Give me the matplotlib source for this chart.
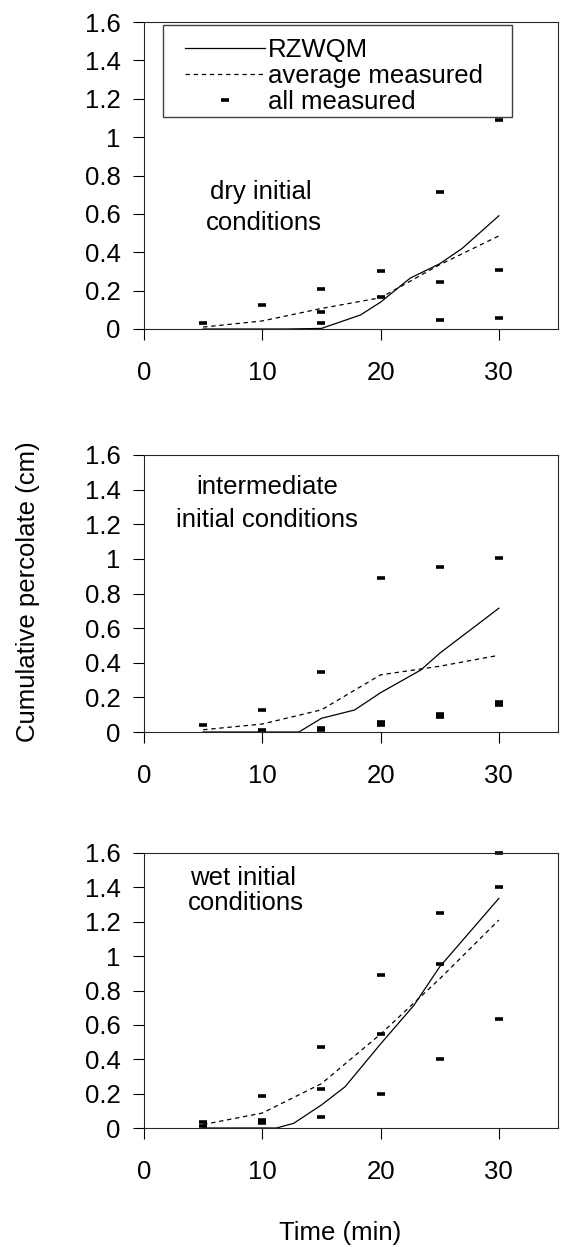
import matplotlib
matplotlib.use("Agg")
import matplotlib.pyplot as plt
from matplotlib.patches import Rectangle
from matplotlib.ticker import FuncFormatter

plt.rcParams["font.family"] = ["Liberation Sans", "DejaVu Sans"]

# ---- data ----
times = [5, 10, 15, 20, 25, 30]

dry_meas_t = [5, 10, 15, 15, 15, 20, 20, 25, 25, 25, 30, 30, 30]
dry_meas_y = [0.03, 0.125, 0.21, 0.088, 0.03, 0.30, 0.168, 0.715, 0.243, 0.047, 1.09, 0.307, 0.057]
dry_avg = [0.01, 0.042, 0.107, 0.163, 0.335, 0.485]
dry_model_t = [5, 10, 12, 15, 18.3, 20, 22.5, 25, 26.9, 30]
dry_model_y = [0, 0, 0, 0.003, 0.073, 0.14, 0.265, 0.34, 0.42, 0.59]

int_meas_t = [5, 10, 10, 15, 15, 15, 20, 20, 20, 25, 25, 25, 30, 30, 30]
int_meas_y = [0.04, 0.127, 0.012, 0.345, 0.012, 0.022, 0.89, 0.043, 0.057, 0.955, 0.086, 0.102, 1.007, 0.157, 0.175]
int_avg = [0.013, 0.046, 0.128, 0.33, 0.38, 0.443]
int_model_t = [5, 10, 13.1, 15, 17.8, 20, 23.4, 25, 30]
int_model_y = [0, 0, 0, 0.079, 0.127, 0.227, 0.358, 0.455, 0.715]

wet_meas_t = [5, 5, 10, 10, 10, 15, 15, 15, 20, 20, 20, 25, 25, 25, 30, 30, 30]
wet_meas_y = [0.037, 0.012, 0.186, 0.03, 0.045, 0.473, 0.227, 0.066, 0.89, 0.547, 0.2, 1.252, 0.952, 0.40, 1.598, 1.40, 0.632]
wet_avg = [0.02, 0.087, 0.258, 0.546, 0.868, 1.21]
wet_model_t = [5, 10, 11.2, 12.65, 15, 17, 20, 22.8, 25, 30]
wet_model_y = [0, 0, 0, 0.027, 0.134, 0.24, 0.489, 0.712, 0.938, 1.336]

panel_labels = [["dry initial", "conditions"],
                ["intermediate", "initial conditions"],
                ["wet initial", "conditions"]]
x_ticks = [0, 10, 20, 30]
y_ticks = [0, 0.2, 0.4, 0.6, 0.8, 1.0, 1.2, 1.4, 1.6]

FS = 18.5

fig = plt.figure(figsize=(5.62, 12.47), dpi=100)
left, width = 144 / 562, 414 / 562
boxes = [(22, 329), (455, 732), (853, 1128)]
panels = [
    (dry_meas_t, dry_meas_y, dry_avg, dry_model_t, dry_model_y),
    (int_meas_t, int_meas_y, int_avg, int_model_t, int_model_y),
    (wet_meas_t, wet_meas_y, wet_avg, wet_model_t, wet_model_y),
]
# text line positions in axes coords (per panel)
label_pos = [[(0.283, 0.445), (0.29, 0.345)],
             [(0.297, 0.885), (0.297, 0.765)],
             [(0.239, 0.91), (0.245, 0.82)]]

for i, ((top, bot), (mt, my, avg, modt, mody)) in enumerate(zip(boxes, panels)):
    ax = fig.add_axes([left, 1 - bot / 1247, width, (bot - top) / 1247])
    l_model, = ax.plot(modt, mody, color="black", lw=0.9, label="RZWQM")
    l_avg, = ax.plot(times, avg, color="black", lw=0.9, ls=(0, (3.5, 3)), label="average measured")
    l_meas, = ax.plot(mt, my, ls="none", marker="_", ms=5.5, mew=2.6, color="black",
                      clip_on=False, label="all measured")
    ax.set_xlim(0, 35)
    ax.set_ylim(0, 1.6)
    ax.set_xticks(x_ticks)
    ax.set_yticks(y_ticks)
    ax.yaxis.set_major_formatter(FuncFormatter(lambda v, p: f"{v:g}"))
    ax.tick_params(axis="y", direction="out", length=8, width=0.8, pad=9, labelsize=FS)
    ax.tick_params(axis="x", direction="out", length=8, width=0.8, pad=15, labelsize=FS)
    for s in ax.spines.values():
        s.set_linewidth(0.8)
        s.set_color("0.15")
    for txt, (tx, ty) in zip(panel_labels[i], label_pos[i]):
        ax.text(tx, ty, txt, transform=ax.transAxes, ha="center", va="center", fontsize=FS)

    if i == 0:
        leg = ax.legend(handles=[l_model, l_avg, l_meas], loc="upper left",
                        bbox_to_anchor=(0.068, 0.99), frameon=False, fontsize=FS,
                        handlelength=3.1, handletextpad=0.12, labelspacing=0.07,
                        borderpad=0.0, numpoints=1)
        leg.set_zorder(5)
        ax.add_patch(Rectangle((0.046, 0.69), 0.843, 0.30, transform=ax.transAxes,
                               facecolor="white", edgecolor="0.25", lw=1.0, zorder=4))

fig.text(28 / 562, 1 - 592 / 1247, "Cumulative percolate (cm)", rotation=90,
         ha="center", va="center", fontsize=FS)
fig.text(340 / 562, 1 - 1233 / 1247, "Time (min)", ha="center", va="center", fontsize=FS)

fig.savefig("out.png", dpi=100)
